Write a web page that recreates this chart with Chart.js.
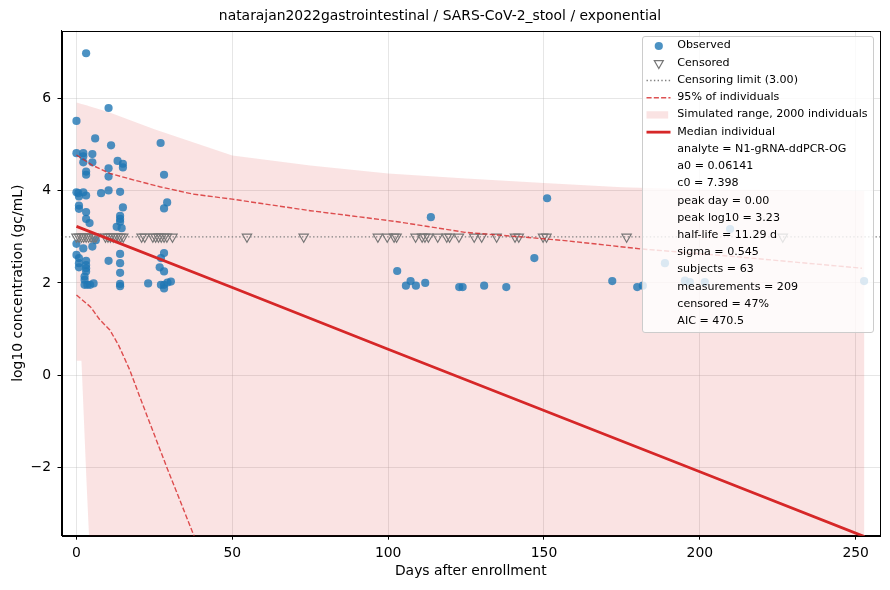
<!DOCTYPE html>
<html><head><meta charset="utf-8">
<script src="https://cdn.jsdelivr.net/npm/chart.js@4.4.1/dist/chart.umd.min.js"></script>
<style>
html,body{margin:0;padding:0;background:#fff;}
#wrap{position:relative;width:890px;height:590px;}
canvas{position:absolute;left:0;top:0;}
#legend{position:absolute;left:641.5px;top:35.7px;width:232.5px;height:297px;box-sizing:border-box;border:1px solid #cccccc;border-radius:3px;background:rgba(255,255,255,0.8);font-family:'DejaVu Sans';font-size:11.1px;color:#000;}
#legend .row{position:absolute;left:34.8px;height:14px;line-height:14px;white-space:nowrap;}
#legend svg{position:absolute;left:0;top:0;overflow:visible;}
</style></head>
<body><div id="wrap"><canvas id="c" width="890" height="590"></canvas><div id="legend"></div></div>
<script>
const titleText = 'natarajan2022gastrointestinal / SARS-CoV-2_stool / exponential';
const xLabel = 'Days after enrollment';
const yLabel = 'log10 concentration (gc/mL)';
const xTicks = [0, 50, 100, 150, 200, 250];
const yTicks = [-2, 0, 2, 4, 6];
const xMin = -4.8, xMax = 257.8, yMin = -3.49, yMax = 7.48;
const censorLimit = 3.0;

const obsDay = [3.1,10.3,0,6.0,11.1,0,2.2,2.2,5.1,2.2,5.1,13.2,14.9,14.9,3.1,3.1,10.3,10.3,0,0.6,0.8,2.2,3.1,7.9,10.3,14.0,14.9,0.8,0.8,3.1,3.1,4.2,14.0,14.0,14.0,12.9,14.5,0,2.2,5.1,6.2,0,0.8,0.8,0.8,3.1,3.1,3.1,3.1,2.6,2.6,2.6,4.4,5.5,3.5,10.3,14.0,14.0,14.0,14.0,14.0,
  27.0,28.1,29.1,28.1,28.1,27.1,26.7,28.1,23.0,27.1,28.1,29.2,30.3,28.1,
  113.7,151.0,102.9,105.7,107.2,108.9,111.9,122.8,123.9,130.8,137.9,146.9,171.9,179.9,181.7,188.8,195.2,196.8,201.6,209.7,252.7];
const obsLog10 = [6.99,5.80,5.52,5.14,4.99,4.82,4.82,4.75,4.80,4.62,4.62,4.65,4.59,4.51,4.42,4.35,4.49,4.31,3.97,3.95,3.88,3.97,3.90,3.95,4.01,3.98,3.64,3.68,3.61,3.54,3.39,3.30,3.46,3.39,3.33,3.22,3.19,2.85,2.75,2.79,2.93,2.61,2.54,2.43,2.34,2.48,2.39,2.32,2.25,2.14,2.07,1.96,1.96,1.99,1.96,2.48,2.63,2.43,2.22,1.98,1.93,
  5.04,4.35,3.75,3.62,2.65,2.54,2.34,2.25,1.99,1.96,1.96,2.01,2.03,1.88,
  3.43,3.84,2.26,1.94,2.04,1.94,2.00,1.91,1.91,1.94,1.91,2.54,2.04,1.91,1.94,2.43,2.05,2.02,2.02,3.17,2.04];

const censDay = [0,0.8,1.6,2.3,3.1,3.9,4.7,5.5,6.2,9.3,10.1,10.9,11.8,12.6,13.4,14.2,15.0,
  20.9,21.9,24.5,25.4,26.3,27.2,28.1,29.0,30.8,54.7,72.9,
  96.7,99.7,101.9,102.7,108.8,110.9,111.8,112.9,115.9,118.8,119.7,122.7,127.6,130.0,134.8,140.7,141.9,149.7,150.8,
  176.5,226.6];

const shadeDay  = [0, 1.6, 3.2, 4.1, 10, 25, 50, 75, 100, 125, 150, 175, 200, 225, 252.8];
const shadeHigh = [5.92, 5.89, 5.86, 5.84, 5.72, 5.34, 4.77, 4.55, 4.38, 4.27, 4.17, 4.08, 4.03, 4.02, 4.00];
const shadeLow  = [0.31, 0.31, -2.28, -3.60, -8, -8, -8, -8, -8, -8, -8, -8, -8, -8, -8];

const hiDay = [0, 5, 10.7, 18.2, 26.7, 37.4, 50, 75, 92.6, 103, 124.6, 142.8, 156.7, 181, 210, 252];
const hiVal = [4.78, 4.56, 4.38, 4.24, 4.09, 3.93, 3.82, 3.57, 3.42, 3.33, 3.10, 3.00, 2.92, 2.74, 2.58, 2.32];
const loDay = [0, 4.5, 7.5, 10.7, 13.5, 17.1, 20.3, 28.9, 37.4, 38.5];
const loVal = [1.74, 1.48, 1.20, 0.98, 0.65, 0.11, -0.47, -1.99, -3.44, -3.62];

const medDay = [0, 50, 100, 150, 200, 252.8];
const medVal = [3.23, 1.90, 0.56, -0.77, -2.10, -3.51];

const legendLabels = ['Observed','Censored','Censoring limit (3.00)','95% of individuals','Simulated range, 2000 individuals','Median individual'];
const statLines = ['analyte = N1-gRNA-ddPCR-OG','a0 = 0.06141','c0 = 7.398','peak day = 0.00','peak log10 = 3.23','half-life = 11.29 d','sigma = 0.545','subjects = 63','measurements = 209','censored = 47%','AIC = 470.5'];

const C_OBS = 'rgba(31,119,180,0.8)';
const C_CENS = '#777777';
const C_LIM = '#808080';
const C_BAND = 'rgba(214,39,40,0.8)';
const C_FILL = 'rgba(214,39,40,0.13)';
const C_MED = '#d62728';

const toXY = (xs, ys) => xs.map((x, i) => ({x: x, y: ys[i]}));
const none = 'rgba(0,0,0,0)';

Chart.defaults.font.family = 'DejaVu Sans';
Chart.defaults.color = '#000';

const framePlugin = {
  id: 'frame',
  afterDatasetsDraw(chart) {
    const a = chart.chartArea, ctx = chart.ctx;
    ctx.save();
    ctx.strokeStyle = '#000';
    ctx.lineWidth = 1;
    ctx.strokeRect(Math.round(a.left) + 0.5, Math.round(a.top) + 0.5, Math.round(a.right) - Math.round(a.left), Math.round(a.bottom) - Math.round(a.top));
    ctx.restore();
  }
};

const gridOpts = {color: 'rgba(176,176,176,0.32)', lineWidth: 1, tickColor: '#000', tickLength: 4, tickWidth: 1};

new Chart(document.getElementById('c'), {
  type: 'scatter',
  data: {
    datasets: [
      {data: toXY(shadeDay, shadeLow), showLine: true, borderColor: none, borderWidth: 1, pointRadius: 0, fill: false, order: 9},
      {data: toXY(shadeDay, shadeHigh), showLine: true, borderColor: none, borderWidth: 1, pointRadius: 0, fill: '-1', backgroundColor: C_FILL, order: 8},
      {data: toXY(obsDay, obsLog10), pointRadius: 4.1, pointBackgroundColor: C_OBS, pointBorderWidth: 0, pointBorderColor: none, order: 6},
      {data: censDay.map(x => ({x: x, y: censorLimit})), pointStyle: 'triangle', rotation: 180, pointRadius: 5.4, pointBackgroundColor: none, pointBorderColor: C_CENS, pointBorderWidth: 1.2, order: 5},
      {data: [{x: xMin, y: censorLimit}, {x: xMax, y: censorLimit}], showLine: true, borderColor: C_LIM, borderWidth: 1.4, borderDash: [1.4, 2.3], pointRadius: 0, fill: false, order: 4},
      {data: toXY(hiDay, hiVal), showLine: true, borderColor: C_BAND, borderWidth: 1.4, borderDash: [5.1, 2.2], pointRadius: 0, fill: false, order: 3},
      {data: toXY(loDay, loVal), showLine: true, borderColor: C_BAND, borderWidth: 1.4, borderDash: [5.1, 2.2], pointRadius: 0, fill: false, order: 3},
      {data: toXY(medDay, medVal), showLine: true, borderColor: C_MED, borderWidth: 2.8, pointRadius: 0, fill: false, order: 1}
    ]
  },
  options: {
    responsive: false, animation: false, events: [],
    layout: {padding: {left: 0, right: 10, top: 0, bottom: 0}},
    plugins: {
      legend: {display: false},
      tooltip: {enabled: false},
      title: {display: true, text: titleText, color: '#000', font: {family: 'DejaVu Sans', size: 13.9, weight: 'normal'}, padding: {top: 8, bottom: 6}}
    },
    scales: {
      x: {
        type: 'linear', min: xMin, max: xMax,
        afterFit: s => { s.height = 54.3; },
        afterBuildTicks: s => { s.ticks = xTicks.map(v => ({value: v})); },
        ticks: {color: '#000', font: {size: 13.9}, padding: 5, maxRotation: 0, autoSkip: false, callback: v => String(v)},
        grid: gridOpts,
        border: {display: true, color: '#000', width: 1},
        title: {display: true, text: xLabel, color: '#000', font: {size: 13.9}, padding: {top: 0, bottom: 10.2}}
      },
      y: {
        type: 'linear', min: yMin, max: yMax,
        afterFit: s => { s.width = 61.5; },
        afterBuildTicks: s => { s.ticks = yTicks.map(v => ({value: v})); },
        ticks: {color: '#000', font: {size: 13.9}, padding: 6.5, autoSkip: false, callback: v => (v < 0 ? '\u2212' + Math.abs(v) : String(v))},
        grid: gridOpts,
        border: {display: true, color: '#000', width: 1},
        title: {display: true, text: yLabel, color: '#000', font: {size: 13.9}, padding: {top: 9.7, bottom: 0}}
      }
    }
  },
  plugins: [framePlugin]
});

// Legend
(function () {
  const lg = document.getElementById('legend');
  const step = 17.23;
  const rows = legendLabels.concat(statLines);
  rows.forEach((t, i) => {
    const d = document.createElement('div');
    d.className = 'row';
    d.style.top = (1.75 + step * i) + 'px';
    d.textContent = t;
    lg.appendChild(d);
  });
  const hy = i => 9.0 + step * i;
  const cx = 15.8;
  const ns = 'http://www.w3.org/2000/svg';
  const svg = document.createElementNS(ns, 'svg');
  svg.setAttribute('width', '232');
  svg.setAttribute('height', '296');
  const add = (tag, attrs) => { const e = document.createElementNS(ns, tag); for (const k in attrs) e.setAttribute(k, attrs[k]); svg.appendChild(e); };
  add('circle', {cx: cx, cy: hy(0), r: 4.1, fill: C_OBS});
  const ty = hy(1);
  add('polygon', {points: `${cx},${ty + 5.2} ${cx - 4.5},${ty - 2.6} ${cx + 4.5},${ty - 2.6}`, fill: 'none', stroke: C_CENS, 'stroke-width': 1.2});
  add('line', {x1: 3.5, x2: 27.5, y1: hy(2), y2: hy(2), stroke: C_LIM, 'stroke-width': 1.4, 'stroke-dasharray': '1.4 2.3'});
  add('line', {x1: 3.5, x2: 27.5, y1: hy(3), y2: hy(3), stroke: C_BAND, 'stroke-width': 1.4, 'stroke-dasharray': '5.1 2.2'});
  add('rect', {x: 3.5, y: hy(4) - 3.65, width: 21.7, height: 7.3, fill: C_FILL});
  add('line', {x1: 3.5, x2: 27.5, y1: hy(5), y2: hy(5), stroke: C_MED, 'stroke-width': 2.8});
  lg.insertBefore(svg, lg.firstChild);
})();
</script>
</body></html>
